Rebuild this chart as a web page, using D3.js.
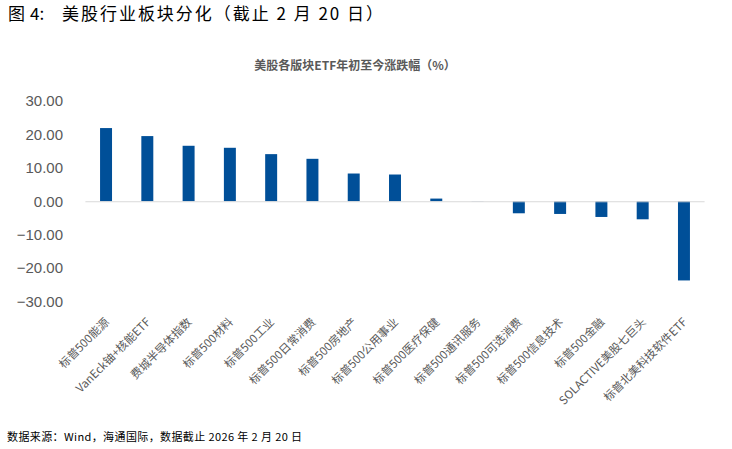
<!DOCTYPE html>
<html><head><meta charset="utf-8">
<script src="https://cdn.jsdelivr.net/npm/d3@7/dist/d3.min.js"></script>
<style>
body{margin:0;background:#fff;}
svg{display:block;}
</style></head>
<body>
<svg id="c" width="732" height="449"></svg>
<script>
const categories = ["标普500能源","VanEck铀+核能ETF","费城半导体指数","标普500材料","标普500工业","标普500日常消费","标普500房地产","标普500公用事业","标普500医疗保健","标普500通讯服务","标普500可选消费","标普500信息技术","标普500金融","SOLACTIVE美股七巨头","标普北美科技软件ETF"];
const values = [21.9, 19.5, 16.6, 16.0, 14.1, 12.7, 8.3, 8.0, 0.8, -0.2, -3.6, -3.8, -4.7, -5.4, -23.7];
const yTicks = [30, 20, 10, 0, -10, -20, -30];
const pageTitleFig = "图";
const pageTitleNum = "4:";
const pageTitle = "美股行业板块分化（截止 2 月 20 日）";
const chartTitle = "美股各版块ETF年初至今涨跌幅（%）";
const sourceNote = "数据来源：Wind，海通国际，数据截止 2026 年 2 月 20 日";

const svg = d3.select("#c");
const cjk = "'Noto Sans CJK SC','Noto Sans',sans-serif";
const gray = "#595959";

svg.append("text").attr("x", 8).attr("y", 20).attr("font-family", cjk)
  .attr("font-size", 17).attr("fill", "#000").text(pageTitleFig);
svg.append("text").attr("x", 30).attr("y", 20).attr("font-family", cjk)
  .attr("font-size", 17).attr("fill", "#000").text(pageTitleNum);
svg.append("text").attr("x", 62).attr("y", 20).attr("font-family", cjk)
  .attr("font-size", 17).attr("fill", "#000")
  .attr("textLength", 321).attr("lengthAdjust", "spacing").text(pageTitle);

svg.append("text").attr("x", 355).attr("y", 70).attr("text-anchor", "middle")
  .attr("font-family", cjk).attr("font-size", 12).attr("font-weight", "bold")
  .attr("fill", gray).text(chartTitle);

const x = d3.scaleBand().domain(categories).range([85.4, 704.6]).paddingInner(0.71).paddingOuter(0.355);
const y = d3.scaleLinear().domain([-30, 30]).range([301.5, 101]);

// y axis labels
const yAxis = d3.axisLeft(y).tickValues(yTicks).tickFormat(d3.format(".2f")).tickSize(0).tickPadding(0);
const ga = svg.append("g").attr("transform", "translate(63,0)").call(yAxis);
ga.select(".domain").remove();
ga.selectAll("text").attr("font-family", "'Liberation Sans',Arial,sans-serif")
  .attr("font-size", 15).attr("fill", gray);

// bars
svg.append("g").selectAll("rect").data(values).join("rect")
  .attr("x", (d, i) => x(categories[i]))
  .attr("width", x.bandwidth())
  .attr("y", d => y(Math.max(0, d)))
  .attr("height", d => Math.abs(y(d) - y(0)))
  .attr("fill", (d, i) => i === 9 ? "#c9d6e8" : "#004f98");

// zero line
svg.append("line").attr("x1", 85.4).attr("x2", 704.6)
  .attr("y1", y(0) + 0.5).attr("y2", y(0) + 0.5)
  .attr("stroke", "#d9d9d9").attr("stroke-width", 1);

// category labels
svg.append("g").selectAll("text").data(categories).join("text")
  .attr("transform", d => `translate(${x(d) + x.bandwidth() / 2 + 1},${320}) rotate(-45)`)
  .attr("text-anchor", "end").attr("dy", "0.35em")
  .attr("font-family", cjk).attr("font-size", 11.5).attr("fill", gray)
  .text(d => d);

svg.append("text").attr("x", 7).attr("y", 441).attr("font-family", cjk)
  .attr("font-size", 11).attr("fill", "#000")
  .attr("textLength", 295).attr("lengthAdjust", "spacing").text(sourceNote);
</script>
</body></html>
